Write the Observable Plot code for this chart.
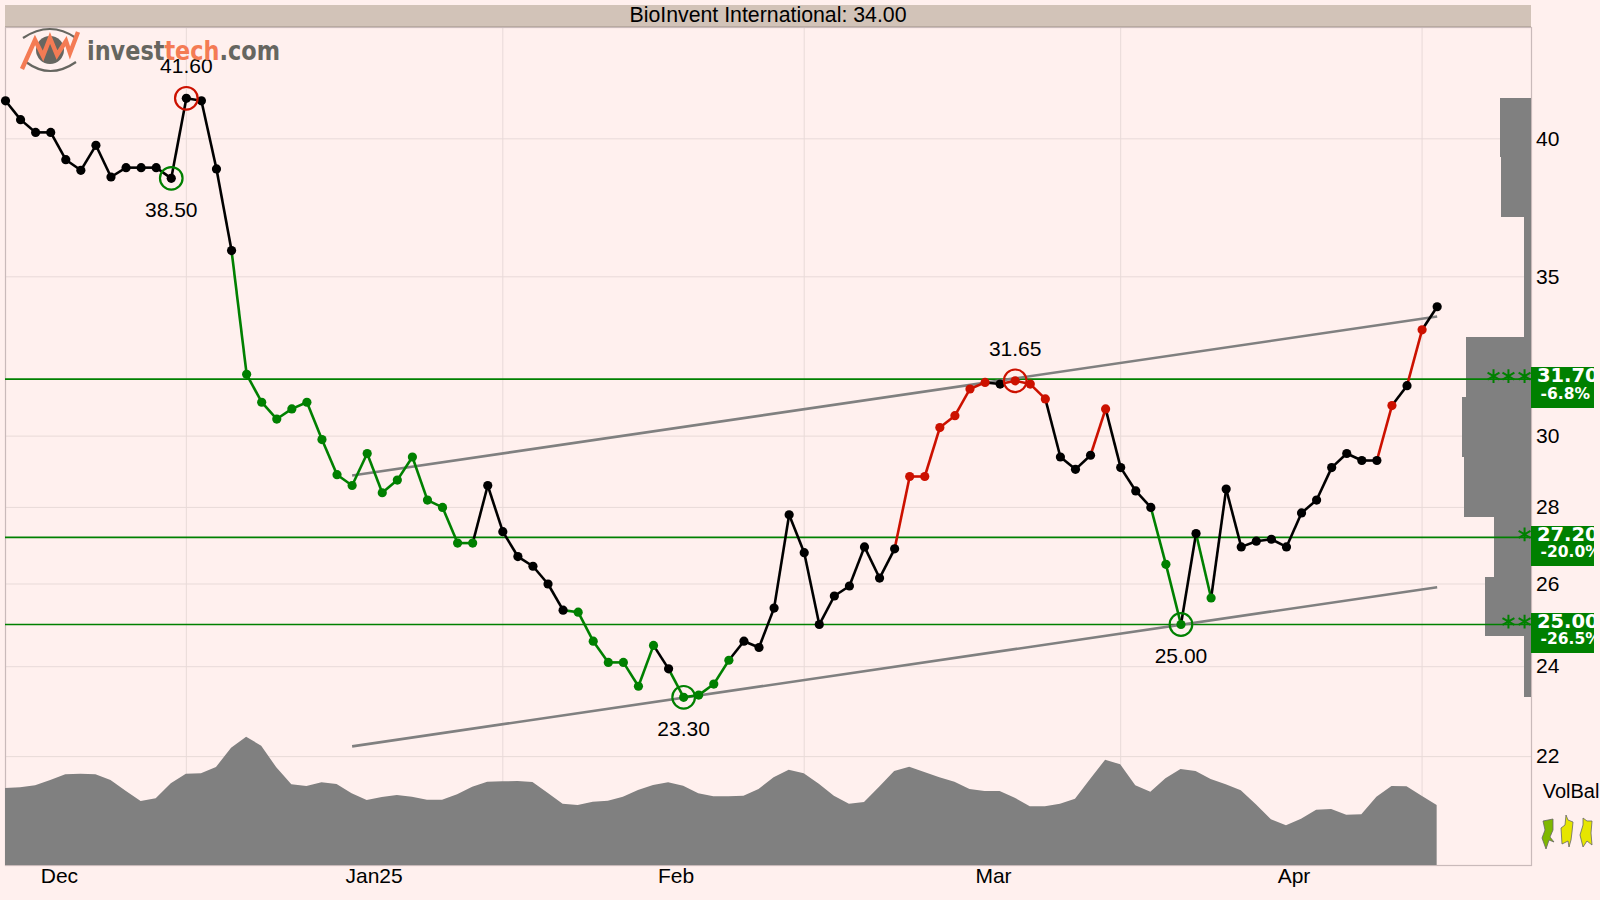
<!DOCTYPE html>
<html>
<head>
<meta charset="utf-8">
<script src="https://cdn.jsdelivr.net/npm/d3@7"></script>
<script src="https://cdn.jsdelivr.net/npm/@observablehq/plot@0.6"></script>
<style>
  html, body { margin: 0; padding: 0; width: 1600px; height: 900px; overflow: hidden; background: #fff0ee; }
  #stage { position: relative; width: 1600px; height: 900px; overflow: hidden; }
  #stage > * { position: absolute; left: 0; top: 0; }
  #title { left: 5px; top: 5px; width: 1526px; height: 21px; background: #d2c3b8; border-bottom: 1px solid #b8aaa0;
           font: 21.3px/20px "Liberation Sans", sans-serif; text-align: center; color: #000; }
</style>
</head>
<body>
<div id="stage"></div>
<script>
const prices = [41.5,40.75,40.25,40.25,39.2,38.8,39.75,38.55,38.9,38.9,38.9,38.5,41.6,41.5,38.85,35.9,
  31.85,31.0,30.5,30.8,31.0,29.9,28.9,28.6,29.5,28.4,28.75,29.4,28.2,28.0,27.05,27.05,
  28.6,27.35,26.7,26.45,26.0,25.35,25.3,24.6,24.1,24.1,23.55,24.5,23.95,23.3,23.35,23.6,
  24.15,24.6,24.45,25.4,27.8,26.8,25.0,25.7,25.95,26.95,26.15,26.9,28.85,28.85,30.25,30.6,
  31.4,31.6,31.55,31.65,31.55,31.1,29.4,29.05,29.45,30.8,29.1,28.45,28.0,26.5,25.0,27.3,
  25.65,28.5,26.95,27.1,27.15,26.95,27.85,28.2,29.1,29.5,29.3,29.3,30.9,31.5,33.25,34.0];
const volBal = [77,77.7,79.7,85,90.7,91.3,90.7,85,74.3,64,66.7,81.7,91.3,91.7,98,117.3,
  128.3,119.3,97.7,80.7,79,82.7,81,71.7,65,68,70,68.3,65.3,65.3,70.7,78.3,
  83.3,83.7,84,83,72.3,61.3,60,63.3,64.3,68.3,75,80,82.7,79.3,71.7,68.7,
  68.7,69.3,76,87.7,95.3,91.7,81.3,69.3,61.3,63,78.3,94,98.3,93,
  87.7,83.3,76,74,74,67.3,58.7,58.7,61.3,66.3,86,105.3,100.7,79.7,
  73.3,86.7,96,94,86,80.7,74.7,60.7,45.7,39.7,46.3,55.3,56,50.3,50.7,68.3,79,78.7,69.3,60];
const colorRuns = [["k",16],["g",16],["k",6],["g",6],["k",1],["g",4],["k",11],["r",6],["k",1],["r",3],
  ["k",3],["r",1],["k",3],["g",2],["k",1],["g",1],["k",11],["r",1],["k",1],["r",1],["k",1]];
const palette = {k: "#000000", g: "#008000", r: "#cc1100"};
const extremes = [
  {i: 12, label: "41.60", up: true,  color: "#cc1100"},
  {i: 11, label: "38.50", up: false, color: "#008000"},
  {i: 45, label: "23.30", up: false, color: "#008000"},
  {i: 67, label: "31.65", up: true,  color: "#cc1100"},
  {i: 78, label: "25.00", up: false, color: "#008000"}
];
const levels = [31.7, 27.2, 25.0];
const levelText = ["31.70", "27.20", "25.00"];
const levelPct = ["-6.8%", "-20.0%", "-26.5%"];
const levelTop = [32.07, 27.5, 25.28];
const levelBottom = [30.81, 26.44, 24.3];
const levelStars = [3, 1, 2];
const starSlots = [100.8, 99.73, 98.74];
const trends = [
  {x1: 23, y1: 28.88, x2: 95, y2: 33.68},
  {x1: 23, y1: 22.22, x2: 95, y2: 25.92}
];
const priceBands = [41.6,39.27,37.05,34.96,33.0,31.14,29.39,27.72,26.16,24.7,23.3];
const bandVolume = [2.04,1.99,0.44,0.44,4.29,4.58,4.45,2.48,3.07,0.48];
const yTicks = [40,35,30,28,26,24,22];
const monthTicks = [3.58,24.46,44.5,65.56,85.5];
const monthLabels = ["Dec","Jan25","Feb","Mar","Apr"];
const monthGrid = [12,33,53,74,94];

const xMax = 101.26, xEdge = 105.44;
const colors = colorRuns.flatMap(([c, n]) => Array(n).fill(palette[c]));
const pts = prices.map((p, i) => ({i, p, c: colors[i]}));
const segs = pts.slice(1).map((d, k) => ({...d, prevP: pts[k].p}));
const bands = bandVolume.map((v, k) => ({v, hi: priceBands[k], lo: priceBands[k + 1]}));
const stars = levels.flatMap((l, k) => starSlots.slice(0, levelStars[k]).map(x => ({x, l})));
const labels = levels.map((l, k) => ({l, text: levelText[k], pct: levelPct[k], top: levelTop[k], bottom: levelBottom[k]}));
const ext = extremes.map(e => ({...e, p: prices[e.i]}));
const gridC = "#e8dad8";
const font = '"Liberation Sans", sans-serif';
const boldFont = '"DejaVu Sans", sans-serif';
const bg = "#fff0ee";

const main = Plot.plot({
  width: 1600, height: 900, marginTop: 27, marginBottom: 35, marginLeft: 5, marginRight: 69,
  style: {background: "transparent", fontFamily: font, fontSize: "21px", color: "#000"},
  x: {domain: [0, xMax], range: [5, 1531], axis: null},
  y: {type: "log", domain: [19.8, 44.55], range: [865, 27], axis: null},
  color: {type: "identity"},
  marks: [
    Plot.ruleY(yTicks, {x1: 0, x2: xMax, stroke: gridC, strokeWidth: 1}),
    Plot.ruleX(monthGrid, {stroke: gridC, strokeWidth: 1}),
    Plot.frame({stroke: "#c9baba", strokeWidth: 1.2}),
    Plot.axisY({anchor: "right", ticks: yTicks, tickSize: 0, tickPadding: 4.5, tickFormat: d => String(d), label: null, fontSize: 21}),
    Plot.axisX({ticks: monthTicks, tickSize: 0, tickPadding: 3, tickFormat: (d, k) => monthLabels[k], label: null, fontSize: 21}),
    Plot.rect(bands, {x1: d => xMax - d.v, x2: xMax, y1: "lo", y2: "hi", fill: "#808080", shapeRendering: "crispEdges"}),
    Plot.ruleY(levels, {x1: 0, x2: xMax, stroke: "#008000", strokeWidth: 1.6}),
    Plot.dot(stars, {x: "x", y: "l", dy: -3, symbol: "asterisk", r: 6.5, stroke: "#008000", strokeWidth: 2}),
    Plot.link(trends, {x1: "x1", y1: "y1", x2: "x2", y2: "y2", stroke: "#808080", strokeWidth: 2.6}),
    Plot.link(segs, {x1: d => d.i - 1, y1: "prevP", x2: "i", y2: "p", stroke: "c", strokeWidth: 2.6}),
    Plot.dot(pts, {x: "i", y: "p", r: 4.6, fill: "c"}),
    Plot.dot(ext, {x: "i", y: "p", r: 11.3, stroke: "color", strokeWidth: 2.2, fill: "none"}),
    Plot.text(ext.filter(d => d.up), {x: "i", y: "p", text: "label", dy: -32, fontSize: 21}),
    Plot.text(ext.filter(d => !d.up), {x: "i", y: "p", text: "label", dy: 32, fontSize: 21}),
    Plot.rect(labels, {x1: xMax, x2: xEdge, y1: "bottom", y2: "top", fill: "#008000", shapeRendering: "crispEdges"}),
    Plot.text(labels, {x: 101.62, y: "l", text: "text", dy: -3, textAnchor: "start", fill: "#fff", fontWeight: "bold", fontFamily: boldFont, fontSize: 19.5}),
    Plot.text(labels, {x: 101.86, y: "l", text: "pct", dy: 15, textAnchor: "start", fill: "#fff", fontWeight: "bold", fontFamily: boldFont, fontSize: 15.5}),
    Plot.rect(labels, {x1: xEdge, x2: 106, y1: "bottom", y2: "top", fill: bg, shapeRendering: "crispEdges"})
  ]
});

const vol = Plot.plot({
  width: 1600, height: 900, marginTop: 27, marginBottom: 35, marginLeft: 5, marginRight: 69,
  style: {background: "transparent", fontFamily: font, fontSize: "20px", color: "#000"},
  x: {domain: [0, xMax], range: [5, 1531], axis: null},
  y: {domain: [0, 838], range: [865, 27], axis: null},
  marks: [
    Plot.areaY(pts, {x: "i", y: (d) => volBal[d.i], fill: "#808080"}),
    Plot.text(["VolBal"], {x: 102.0, y: 74, text: d => d, textAnchor: "start", fontSize: 20})
  ]
});

const deco = `
<svg width="1600" height="900" xmlns="http://www.w3.org/2000/svg" style="pointer-events:none">
  <g fill="none">
    <path d="M23 38 Q50 20 76 38" stroke="#666660" stroke-width="2.2"/>
    <path d="M26 62 Q50 80 76 62" stroke="#666660" stroke-width="2.2"/>
    <circle cx="50" cy="50" r="14" fill="#666660"/>
    <path d="M22 69 L35 40 L43 56 L50 38 L57 55 L66 41 L70 53 L78 32" stroke="#f47b54" stroke-width="4.4" stroke-linejoin="miter"/>
  </g>
  <text x="87" y="60" textLength="193" lengthAdjust="spacingAndGlyphs" font-family="'DejaVu Sans', sans-serif" font-weight="bold" font-size="27" fill="#666660">invest<tspan fill="#f47b54">tech</tspan>.com</text>
  <g stroke="#666" stroke-width="0.8">
    <path fill="#7fb800" d="M1543 821 L1553 819 L1553 830 L1550 837 L1554 842 L1549 840 L1546 849 L1542 838 L1545 830 Z"/>
    <path fill="#e6e600" d="M1566 815 L1568 820 L1573 822 L1572 832 L1571 840 L1569 847 L1568 841 L1562 844 L1561 828 L1565 825 Z"/>
    <path fill="#e6e600" d="M1583 818 L1587 821 L1592 821 L1591 833 L1592 845 L1587 841 L1583 847 L1580 835 L1583 825 Z"/>
  </g>
</svg>`;

const stage = document.getElementById("stage");
stage.append(main);
stage.append(vol);
const holder = document.createElement("div");
holder.innerHTML = deco;
stage.append(holder);
const title = document.createElement("div");
title.id = "title";
title.textContent = "BioInvent International: 34.00";
stage.append(title);
</script>
</body>
</html>
